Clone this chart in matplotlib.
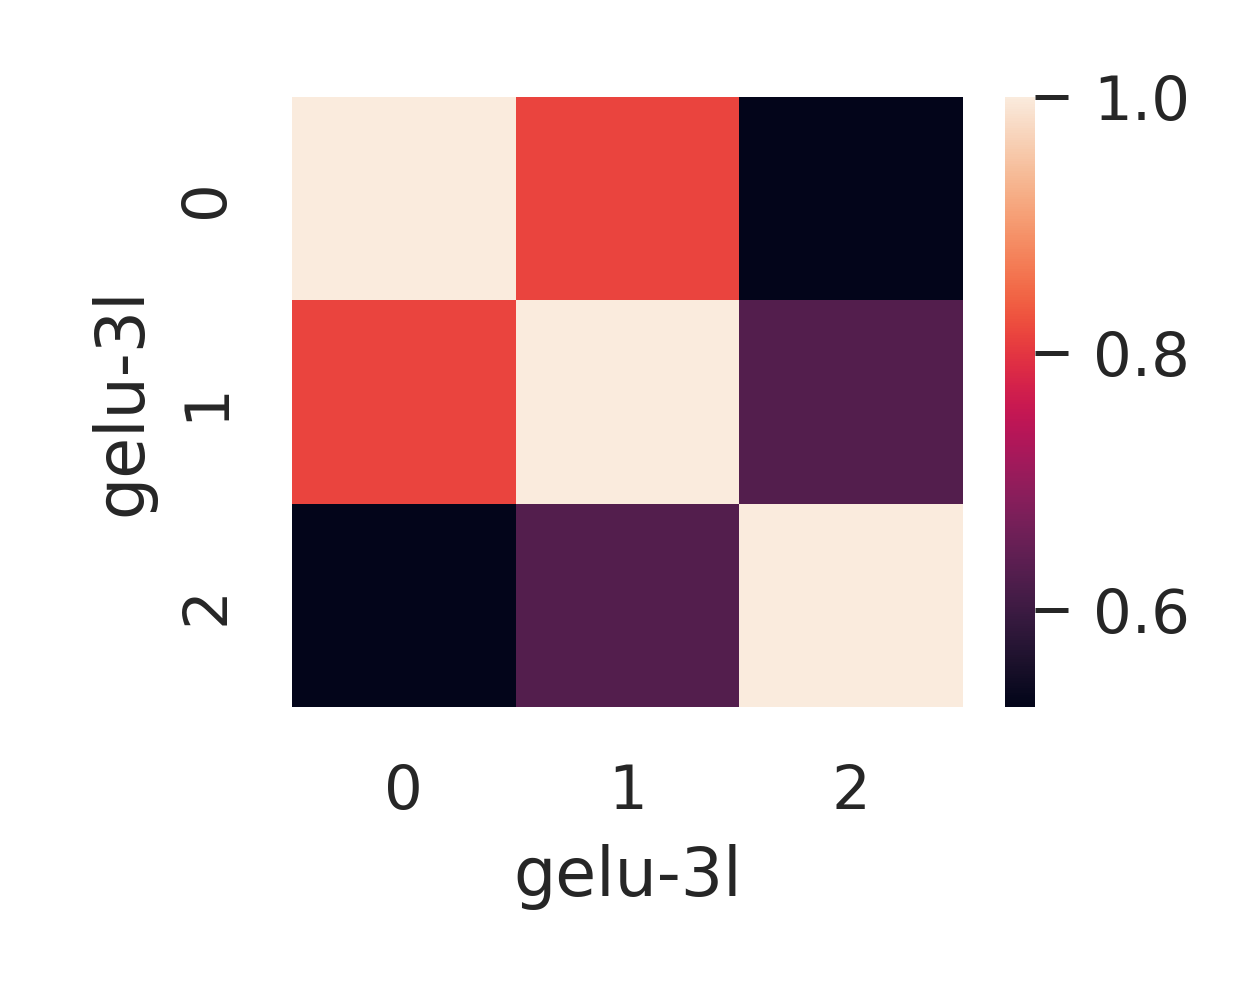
import numpy as np
import matplotlib
matplotlib.use("Agg")
import matplotlib.pyplot as plt
import seaborn as sns

# similarity matrix
labels = ["0", "1", "2"]
row0 = [1.0, 0.815, 0.524]
row1 = [0.815, 1.0, 0.628]
row2 = [0.524, 0.628, 1.0]
matrix = np.array([row0, row1, row2])
cbar_ticks = [0.6, 0.8, 1.0]
axis_label = "gelu-3l"

sns.set_theme(style="darkgrid")
plt.rcParams['font.family'] = ['DejaVu Sans']
text_color = "#262626"

fig = plt.figure(figsize=(6.25, 5), dpi=200)
ax = fig.add_axes([0.2336, 0.293, 0.5368, 0.610])
cax = fig.add_axes([0.804, 0.293, 0.024, 0.610])

sns.heatmap(matrix, ax=ax, cbar_ax=cax, cmap="rocket",
            vmin=0.524, vmax=1.0, xticklabels=labels, yticklabels=labels)

ax.tick_params(axis="both", length=0, labelsize=22, labelcolor=text_color, pad=20)
for t in ax.get_yticklabels():
    t.set_rotation(90)
    t.set_va("center")
ax.set_xlabel(axis_label, fontsize=24, color=text_color, labelpad=8)
ax.set_ylabel(axis_label, fontsize=24, color=text_color, labelpad=8)

cax.set_yticks(cbar_ticks)
cax.set_yticklabels(["0.6", "0.8", "1.0"])
cax.tick_params(axis="y", length=12, width=1.8, color=text_color,
                labelsize=22, labelcolor=text_color, pad=9)
cax.grid(False)

fig.savefig("out.png", dpi=200)
